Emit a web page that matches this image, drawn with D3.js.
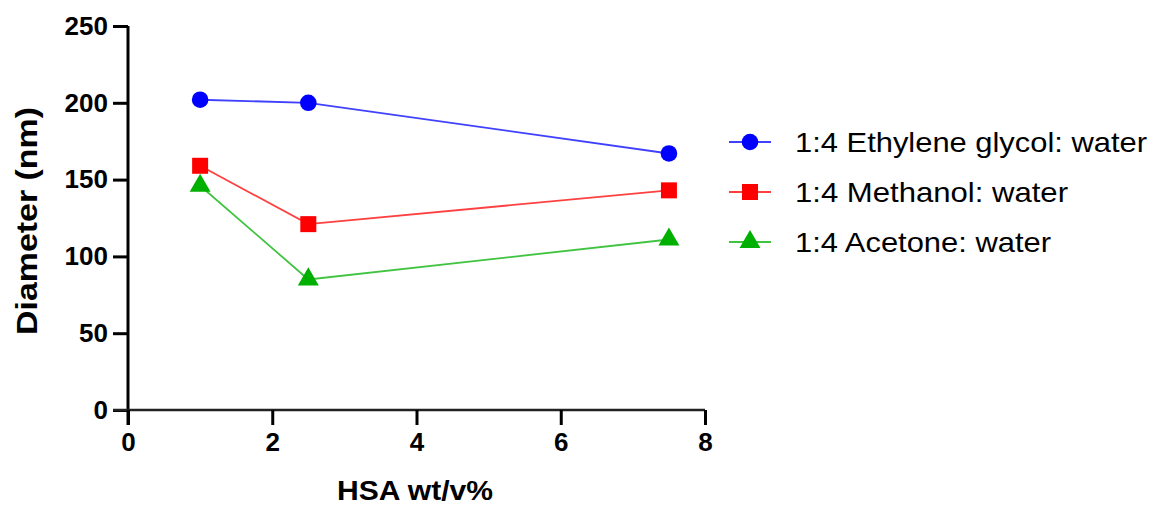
<!DOCTYPE html>
<html>
<head>
<meta charset="utf-8">
<script src="https://cdn.jsdelivr.net/npm/d3@7"></script>
<style>
  html, body { margin: 0; padding: 0; background: #fff; }
  svg { display: block; }
  text { font-family: Arial, "Liberation Sans", sans-serif; fill: #000; }
</style>
</head>
<body>
<svg id="chart" width="1151" height="506"></svg>
<script>
// HSA concentration (wt/v%)
const hsa = [1, 2.5, 7.5];

// Particle diameter (nm) per solvent system
const ethyleneGlycol = [202, 200, 167];
const methanol = [159, 121, 143];
const acetone = [146, 85, 111];

const seriesNames = ["1:4 Ethylene glycol: water", "1:4 Methanol: water", "1:4 Acetone: water"];
const seriesColors = ["#0000ff", "#ff0000", "#00b000"];
const seriesShapes = [d3.symbolCircle, d3.symbolSquare, d3.symbolTriangle];

const xTicks = [0, 2, 4, 6, 8];
const yTicks = [0, 50, 100, 150, 200, 250];

const series = [ethyleneGlycol, methanol, acetone].map((vals, i) => ({
  name: seriesNames[i],
  color: seriesColors[i],
  shape: seriesShapes[i],
  points: vals.map((v, j) => ({ x: hsa[j], y: v }))
}));

const svg = d3.select("#chart");

const x = d3.scaleLinear().domain([0, 8]).range([128, 705]);
const y = d3.scaleLinear().domain([0, 250]).range([410, 26]);

// Y axis (thick, ticks pointing left)
const yAxis = svg.append("g")
  .attr("transform", `translate(${x(0)},0)`)
  .call(d3.axisLeft(y).tickValues(yTicks).tickSize(15).tickPadding(5).tickSizeOuter(0));
yAxis.select(".domain").attr("stroke", "#000").attr("stroke-width", 3)
  .attr("d", `M0,${y(250)}V${y(0) + 15}`);
yAxis.selectAll(".tick line").attr("stroke", "#000").attr("stroke-width", 3);
yAxis.selectAll(".tick text")
  .style("font-size", "26px").style("font-weight", "bold")
  .attr("fill", "#000");

// X axis (ticks pointing down)
const xAxis = svg.append("g")
  .attr("transform", `translate(0,${y(0)})`)
  .call(d3.axisBottom(x).tickValues(xTicks).tickSize(15).tickPadding(8).tickSizeOuter(0));
xAxis.select(".domain").attr("stroke", "#222").attr("stroke-width", 2.5)
  .attr("d", `M${x(0) - 15},0H${x(8)}`);
xAxis.selectAll(".tick line").attr("stroke", "#000").attr("stroke-width", 3);
xAxis.selectAll(".tick text")
  .style("font-size", "26px").style("font-weight", "bold")
  .attr("fill", "#000");

// Axis titles
svg.append("text")
  .attr("x", 415).attr("y", 500)
  .attr("text-anchor", "middle")
  .style("font-size", "27px").style("font-weight", "bold")
  .attr("textLength", 156).attr("lengthAdjust", "spacingAndGlyphs")
  .text("HSA wt/v%");

svg.append("text")
  .attr("transform", "translate(37,221) rotate(-90)")
  .attr("text-anchor", "middle")
  .style("font-size", "29px").style("font-weight", "bold")
  .attr("textLength", 228).attr("lengthAdjust", "spacingAndGlyphs")
  .text("Diameter  (nm)");

// Series lines and markers
const line = d3.line().x(d => x(d.x)).y(d => y(d.y));

function markerSize(shape) {
  if (shape === d3.symbolCircle) return Math.PI * 8.3 * 8.3;
  if (shape === d3.symbolSquare) return 16 * 16;
  return 190;
}

series.forEach(s => {
  svg.append("path")
    .datum(s.points)
    .attr("fill", "none")
    .attr("stroke", s.color)
    .attr("stroke-opacity", 0.75)
    .attr("stroke-width", 1.8)
    .attr("d", line);

  svg.selectAll(null)
    .data(s.points)
    .enter().append("path")
    .attr("transform", d => `translate(${x(d.x)},${y(d.y)})`)
    .attr("fill", s.color)
    .attr("d", d3.symbol().type(s.shape).size(markerSize(s.shape)));
});

// Legend
const legendY = [142, 192, 242];
const legendWidths = [352, 273, 256];
series.forEach((s, i) => {
  const g = svg.append("g").attr("transform", `translate(0,${legendY[i]})`);
  g.append("line")
    .attr("x1", 729).attr("x2", 771)
    .attr("stroke", s.color).attr("stroke-opacity", 0.75).attr("stroke-width", 1.8);
  g.append("path")
    .attr("transform", "translate(750,0)")
    .attr("fill", s.color)
    .attr("d", d3.symbol().type(s.shape).size(markerSize(s.shape)));
  g.append("text")
    .attr("x", 795).attr("y", 10)
    .style("font-size", "28px")
    .attr("textLength", legendWidths[i]).attr("lengthAdjust", "spacingAndGlyphs")
    .text(s.name);
});
</script>
</body>
</html>
